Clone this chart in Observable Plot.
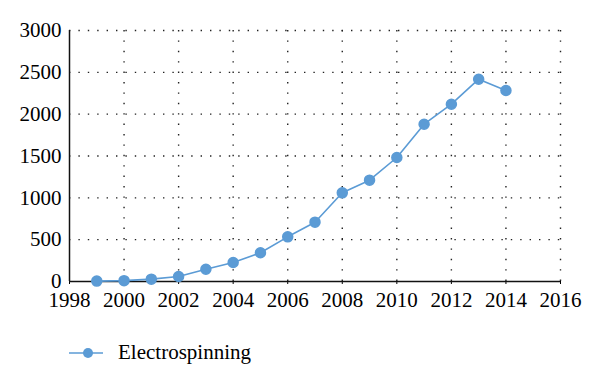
<!DOCTYPE html>
<html>
<head>
<meta charset="utf-8">
<script src="https://cdn.jsdelivr.net/npm/d3@7"></script>
<script src="https://cdn.jsdelivr.net/npm/@observablehq/plot@0.6"></script>
<style>
  body { margin: 0; background: #fff; font-family: "Liberation Serif", "DejaVu Serif", serif; }
  #chart { width: 600px; height: 387px; position: relative; }
  #chart svg text { font-family: "Liberation Serif", "DejaVu Serif", serif !important; font-variant: normal !important; fill: #000; }
  #legend { position: absolute; left: 69px; top: 340px; display: flex; align-items: center; font-size: 21px; color: #000; }
  #legend svg { margin-right: 15px; }
</style>
</head>
<body>
<div id="chart"></div>
<script>
const years = [1999, 2000, 2001, 2002, 2003, 2004, 2005, 2006, 2007, 2008, 2009, 2010, 2011, 2012, 2013, 2014];
const counts = [5, 10, 28, 60, 147, 227, 343, 534, 709, 1060, 1211, 1482, 1880, 2119, 2418, 2283];
const xTicks = [1998, 2000, 2002, 2004, 2006, 2008, 2010, 2012, 2014, 2016];
const yTicks = [0, 500, 1000, 1500, 2000, 2500, 3000];
const seriesName = "Electrospinning";
const color = "#5b9bd5";

const data = years.map((y, i) => ({year: y, value: counts[i]}));
const serif = '"Liberation Serif", "DejaVu Serif", serif';

const plot = Plot.plot({
  width: 600,
  height: 320,
  marginTop: 30,
  marginBottom: 39,
  marginLeft: 69,
  marginRight: 40,
  style: {fontFamily: serif, fontSize: "21px", color: "#000", background: "#fff"},
  x: {domain: [1998, 2016], ticks: xTicks, tickFormat: d => String(d), label: null},
  y: {domain: [0, 3000], ticks: yTicks, tickFormat: d => String(d), label: null},
  marks: [
    Plot.gridY(yTicks.filter(d => d > 0), {stroke: "#222", strokeOpacity: 1, strokeWidth: 1.4, strokeDasharray: "1.4,8"}),
    Plot.gridX(xTicks.filter(d => d > 1998), {stroke: "#222", strokeOpacity: 1, strokeWidth: 1.4, strokeDasharray: "1.4,9"}),
    Plot.axisX({ticks: xTicks, tickSize: 3, tickPadding: 8, tickFormat: d => String(d), fontSize: 21, fontFamily: serif, label: null}),
    Plot.axisY({ticks: yTicks, tickSize: 0, tickPadding: 8, tickFormat: d => String(d), fontSize: 21, fontFamily: serif, label: null}),
    Plot.ruleY([0], {stroke: "#111", strokeWidth: 1.5}),
    Plot.ruleX([1998], {stroke: "#111", strokeWidth: 1.5}),
    Plot.line(data, {x: "year", y: "value", stroke: color, strokeWidth: 1.6}),
    Plot.dot(data, {x: "year", y: "value", r: 5, fill: color, stroke: color})
  ]
});
document.getElementById("chart").appendChild(plot);

const legend = document.createElement("div");
legend.id = "legend";
legend.innerHTML = `<svg width="34" height="12"><line x1="0" y1="6" x2="34" y2="6" stroke="${color}" stroke-width="1.6"/><circle cx="19" cy="6" r="5" fill="${color}"/></svg><span>${seriesName}</span>`;
document.getElementById("chart").appendChild(legend);
</script>
</body>
</html>
